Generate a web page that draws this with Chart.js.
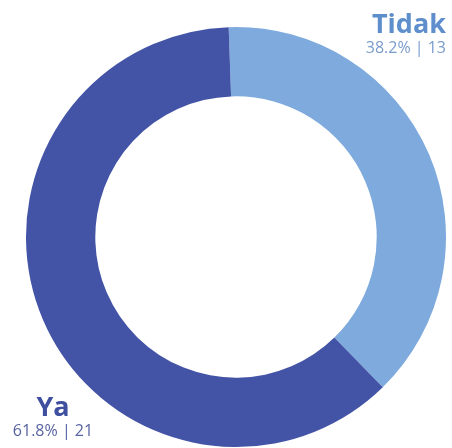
<!DOCTYPE html>
<html lang="id">
<head>
  <meta charset="UTF-8">
  <title>Tidak / Ya</title>
  <script src="https://cdn.jsdelivr.net/npm/chart.js"></script>
  <style>
    html, body { margin: 0; padding: 0; background: #ffffff; }
    #wrap { width: 452px; height: 448px; position: relative; }
  </style>
</head>
<body>
  <div id="wrap">
    <canvas id="donut"></canvas>
  </div>

  <script>
    // answers, in drawing order (clockwise from the top)
    const labels = ['Tidak', 'Ya'];
    const counts = [13, 21];
    const sliceColors = ['#7eaadd', '#4354a6'];
    const titleColors = ['#5e8fcc', '#3f4f9f'];
    const subColors = ['#7a9ccb', '#5763a2'];

    const total = counts.reduce((a, b) => a + b, 0);

    // name + "pct | count" captions in the corners
    const cornerLabels = {
      id: 'cornerLabels',
      afterDraw(chart) {
        const ctx = chart.ctx;
        const spots = [
          { x: 446, y: 33, align: 'right' },
          { x: 53, y: 416, align: 'center' }
        ];
        ctx.save();
        labels.forEach((name, i) => {
          const s = spots[i];
          const pct = (counts[i] / total * 100).toFixed(1);
          ctx.textAlign = s.align;
          ctx.textBaseline = 'alphabetic';
          ctx.fillStyle = titleColors[i];
          ctx.font = 'bold 27px "Open Sans", sans-serif';
          ctx.fillText(name, s.x, s.y);
          ctx.fillStyle = subColors[i];
          ctx.font = '16px "Open Sans", sans-serif';
          ctx.fillText(pct + '% | ' + counts[i], s.x, s.y + 20);
        });
        ctx.restore();
      }
    };

    new Chart(document.getElementById('donut'), {
      type: 'doughnut',
      data: {
        labels: labels,
        datasets: [{
          data: counts,
          backgroundColor: sliceColors,
          borderWidth: 0,
          hoverOffset: 0
        }]
      },
      options: {
        responsive: true,
        maintainAspectRatio: false,
        animation: false,
        cutout: '67%',
        rotation: -2,
        layout: { padding: { left: 26, right: 6, top: 27, bottom: 1 } },
        plugins: {
          legend: { display: false },
          tooltip: { enabled: false }
        },
        events: []
      },
      plugins: [cornerLabels]
    });
  </script>
</body>
</html>
